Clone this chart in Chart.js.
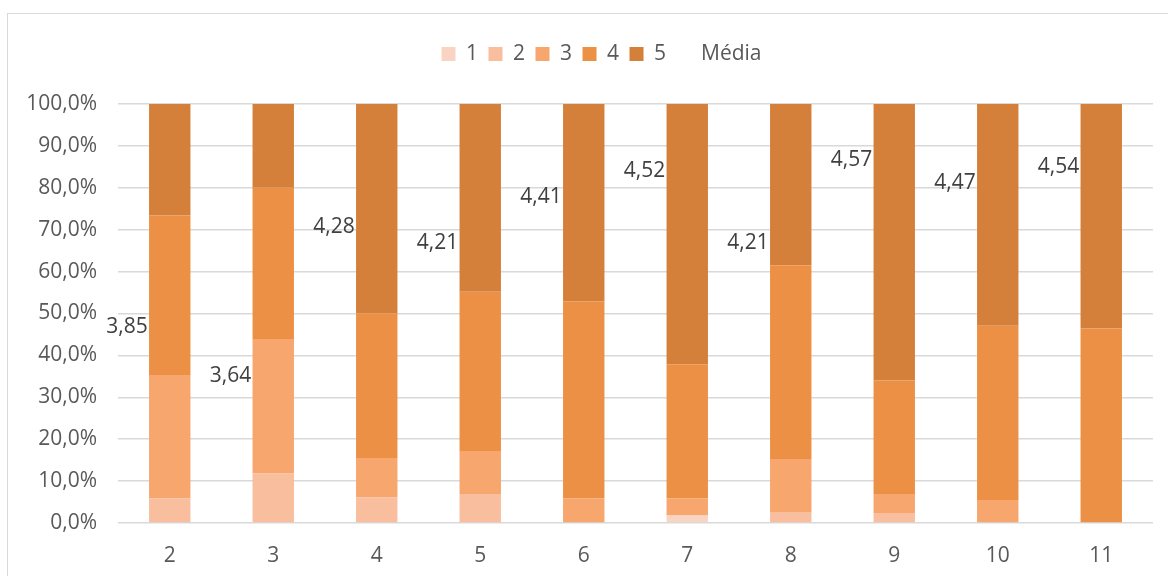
<!DOCTYPE html>
<html>
<head>
<meta charset="utf-8">
<script src="https://cdn.jsdelivr.net/npm/chart.js@4/dist/chart.umd.min.js"></script>
<style>
  html, body { margin: 0; padding: 0; background: #ffffff; overflow: hidden; }
  #wrap { position: relative; width: 1168px; height: 576px; }
  #frame { position: absolute; left: 7px; top: 13px; width: 2000px; height: 2000px;
           border: 1px solid #D9D9D9; pointer-events: none; }
  canvas { position: absolute; left: 0; top: 0; }
</style>
</head>
<body>
<div id="wrap">
  <canvas id="chart" width="1168" height="576"></canvas>
  <div id="frame"></div>
</div>
<script>
// Categories (question numbers)
const categories = ['2', '3', '4', '5', '6', '7', '8', '9', '10', '11'];

// Share of answers per rating, in percent
const rating1 = [0, 0, 0, 0, 0, 1.8, 0, 0, 0, 0];
const rating2 = [5.9, 11.9, 6.1, 6.9, 0, 0, 2.6, 2.4, 0, 0];
const rating3 = [29.4, 32.0, 9.4, 10.3, 5.9, 4.1, 12.7, 4.5, 5.5, 0];
const rating4 = [38.1, 36.1, 34.5, 38.0, 47.0, 32.0, 46.2, 27.1, 41.6, 46.4];
const rating5 = [26.6, 20.0, 50.0, 44.8, 47.1, 62.1, 38.5, 66.0, 52.9, 53.6];

// Mean rating per question
const mediaValues = [3.85, 3.64, 4.28, 4.21, 4.41, 4.52, 4.21, 4.57, 4.47, 4.54];

// Y axis tick range (percent)
const yTicks = { min: 0, max: 100, step: 10 };

const colors = ['#FAD4C3', '#F8BE9E', '#F7A66E', '#EC9045', '#D47F3A'];
const FONT = '"Open Sans", "DejaVu Sans", sans-serif';

const fmtComma = (v, d) => Number(v).toFixed(d).replace('.', ',');

// Draws the mean values as text to the left of each (invisible) point
const mediaLabels = {
  id: 'mediaLabels',
  afterDatasetsDraw(chart) {
    const idx = chart.data.datasets.findIndex(d => d.label === 'Média');
    if (idx < 0) return;
    const meta = chart.getDatasetMeta(idx);
    const ctx = chart.ctx;
    ctx.save();
    ctx.font = '21px ' + FONT;
    ctx.fillStyle = '#404040';
    ctx.textAlign = 'right';
    ctx.textBaseline = 'middle';
    meta.data.forEach((pt, i) => {
      ctx.fillText(fmtComma(mediaValues[i], 2), pt.x - 22, pt.y + 2);
    });
    ctx.restore();
  }
};

// Centres the legend over the plot rather than over the whole canvas
const legendShift = {
  id: 'legendShift',
  afterLayout(chart) {
    const lg = chart.legend;
    if (lg) { lg.left += 15; lg.right += 15; }
  }
};

const barSet = (label, data, color) => ({
  type: 'bar', label, data, backgroundColor: color, borderWidth: 0,
  stack: 'dist', yAxisID: 'y', barPercentage: 0.4, categoryPercentage: 1.0
});

new Chart(document.getElementById('chart'), {
  data: {
    labels: categories,
    datasets: [
      barSet('1', rating1, colors[0]),
      barSet('2', rating2, colors[1]),
      barSet('3', rating3, colors[2]),
      barSet('4', rating4, colors[3]),
      barSet('5', rating5, colors[4]),
      {
        type: 'line', label: 'Média', data: mediaValues, yAxisID: 'y1',
        showLine: false, pointRadius: 0, pointHoverRadius: 0,
        backgroundColor: 'rgba(0,0,0,0)', borderColor: 'rgba(0,0,0,0)', borderWidth: 0
      }
    ]
  },
  options: {
    responsive: false,
    devicePixelRatio: 1,
    animation: false,
    layout: { padding: { top: 33, left: 20, right: 15, bottom: 0 } },
    plugins: {
      legend: {
        position: 'top',
        labels: {
          boxWidth: 14, boxHeight: 14, padding: 10.5,
          color: '#595959', font: { family: FONT, size: 21 }
        }
      },
      subtitle: {
        display: true, text: '', weight: 500,
        font: { size: 10, lineHeight: 1.0 },
        padding: { top: 19.5, bottom: 0 }
      },
      tooltip: { enabled: false }
    },
    scales: {
      x: {
        stacked: true,
        afterFit(scale) { scale.height = 53; },
        grid: { display: false, drawTicks: false },
        border: { display: false },
        ticks: { color: '#595959', font: { family: FONT, size: 21 }, padding: 20, maxRotation: 0 }
      },
      y: {
        stacked: true,
        min: yTicks.min, max: yTicks.max,
        afterFit(scale) { scale.width = 98; },
        grid: { color: '#D9D9D9', lineWidth: 1.5, drawTicks: false },
        border: { display: false },
        ticks: {
          stepSize: yTicks.step, padding: 21, color: '#595959',
          font: { family: FONT, size: 21 },
          callback: value => fmtComma(value, 1) + '%'
        }
      },
      y1: {
        display: false, stacked: false, min: 3, max: 4.8, position: 'right'
      }
    }
  },
  plugins: [mediaLabels, legendShift]
});
</script>
</body>
</html>
